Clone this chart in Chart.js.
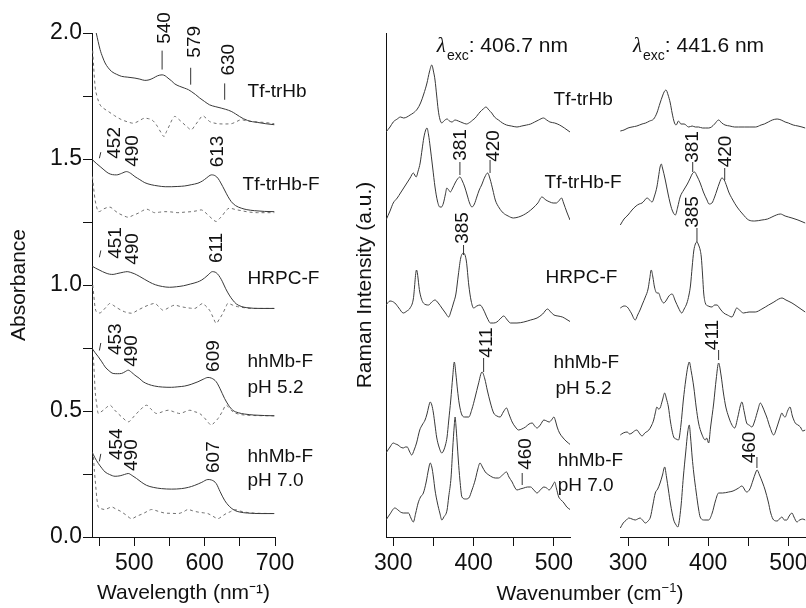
<!DOCTYPE html>
<html>
<head>
<meta charset="utf-8">
<script src="https://cdn.jsdelivr.net/npm/chart.js@4.4.0/dist/chart.umd.min.js"></script>
<style>
  html, body { margin: 0; padding: 0; background: #fff; overflow: hidden; }
  body { width: 806px; height: 608px; position: relative; }
  canvas { position: absolute; top: 0; }
  #abs { left: 0; }
  #ram1 { left: 340px; }
  #ram2 { left: 600px; }
  .xtitle {
    position: absolute; left: 590px; top: 593px; transform: translate(-50%, -50%);
    font: 21px 'Liberation Sans', Arial, sans-serif; color: #111; white-space: nowrap;
  }
  .xtitle sup { font-size: 13px; vertical-align: 8px; line-height: 0; }
</style>
</head>
<body>
<canvas id="abs" width="330" height="608"></canvas>
<canvas id="ram1" width="300" height="608"></canvas>
<canvas id="ram2" width="230" height="608"></canvas>
<div class="xtitle">Wavenumber (cm<sup>−1</sup>)</div>
<script>
const FONT = "'Liberation Sans', Arial, sans-serif";
Chart.defaults.font.family = FONT;
Chart.defaults.color = '#111';

// tick labels
const wlTickLabels = [500, 600, 700];
const absTickLabels = [0, 0.5, 1.0, 1.5, 2.0];
const wnTickLabels = [300, 400, 500];

// absorbance spectra [wavelength nm, absorbance]; *Dash = dashed trace
const absTfTrHb = [[446,2.0],[451.5,1.934],[455,1.905],[458.6,1.881],[463,1.862],[468,1.847],[475,1.836],[482,1.828],[490,1.825],[501,1.821],[508,1.817],[515,1.812],[521,1.814],[527,1.821],[533,1.83],[539.6,1.834],[544,1.83],[548,1.821],[553,1.81],[557.6,1.798],[564,1.789],[571.7,1.781],[577,1.775],[581,1.768],[587,1.756],[593,1.742],[600,1.728],[607,1.715],[615,1.708],[623.6,1.702],[630,1.697],[637.8,1.689],[644,1.679],[649.5,1.669],[655,1.66],[661,1.653],[668,1.648],[675.4,1.645],[687,1.64],[699,1.636]];
const absTfTrHbDash = [[441,1.93],[442.5,1.86],[444.4,1.788],[447,1.75],[451.5,1.715],[457,1.70],[463,1.689],[472,1.672],[482,1.656],[490,1.648],[498.6,1.642],[506,1.65],[515,1.662],[520,1.66],[524.6,1.656],[529,1.645],[533,1.629],[538,1.605],[542.4,1.589],[546,1.61],[550.5,1.636],[554,1.657],[557.6,1.669],[563,1.658],[569.3,1.642],[575,1.628],[581,1.616],[586,1.632],[590.5,1.649],[597.6,1.671],[602,1.662],[607,1.649],[613,1.643],[618.8,1.64],[628,1.639],[637.8,1.64],[645,1.648],[652,1.656],[659,1.652],[666,1.649],[675,1.647],[685,1.645],[699,1.64]];
const absTfTrHbF = [[440.6,1.497],[446,1.483],[451.5,1.47],[457,1.457],[463,1.444],[469,1.438],[475,1.437],[482,1.443],[489,1.45],[495,1.443],[501,1.43],[508,1.418],[515,1.406],[524,1.398],[534,1.393],[544,1.39],[553,1.39],[562,1.391],[571.7,1.393],[581,1.398],[590.5,1.404],[597,1.413],[602.4,1.424],[606,1.432],[609.5,1.437],[613,1.436],[618.8,1.424],[623,1.405],[628.3,1.377],[633,1.352],[637.8,1.331],[644,1.315],[652,1.305],[660,1.299],[670.7,1.295],[685,1.292],[699,1.291]];
const absTfTrHbFDash = [[440.6,1.43],[442.5,1.38],[444.4,1.338],[446.5,1.31],[449,1.291],[452,1.293],[456,1.301],[461,1.307],[465.6,1.309],[471,1.298],[477.4,1.285],[484,1.276],[491.5,1.269],[498,1.276],[505.7,1.285],[512,1.295],[517.5,1.301],[523,1.295],[529,1.287],[536,1.289],[543.4,1.291],[552,1.29],[562,1.287],[571,1.289],[581,1.291],[588,1.294],[595.3,1.298],[600,1.29],[604.7,1.278],[611,1.262],[616.5,1.252],[621,1.263],[625.9,1.278],[630,1.294],[635.4,1.305],[643,1.3],[652,1.295],[662,1.29],[675.4,1.287],[699,1.287]];
const absHRPC = [[440,1.075],[445,1.067],[450,1.06],[455,1.053],[460,1.047],[465,1.043],[470,1.042],[475,1.045],[480,1.048],[485,1.051],[490,1.053],[495,1.05],[500,1.045],[507,1.035],[515,1.022],[522,1.011],[530,1.001],[540,0.994],[550,0.991],[560,0.993],[570,0.997],[580,1.004],[590,1.012],[596,1.02],[600,1.028],[605,1.04],[611,1.053],[615,1.051],[618,1.045],[622,1.03],[625,1.015],[630,0.985],[635,0.96],[640,0.94],[645,0.925],[652,0.915],[660,0.91],[680,0.907],[699,0.907]];
const absHRPCDash = [[441,1.0],[442.5,0.96],[444.4,0.91],[447,0.892],[451,0.889],[456,0.9],[461,0.915],[465.6,0.927],[471,0.918],[477,0.907],[486,0.894],[496,0.888],[505,0.9],[515,0.914],[522,0.922],[529,0.927],[535,0.914],[541,0.9],[549,0.91],[557.6,0.92],[565,0.915],[572,0.911],[580,0.908],[586,0.907],[592,0.918],[597.6,0.927],[602,0.915],[607,0.9],[612,0.872],[616.5,0.848],[621,0.865],[626,0.888],[630,0.912],[633,0.927],[640,0.92],[647,0.914],[656,0.91],[666,0.907],[699,0.907]];
const absMb52 = [[440,0.749],[444,0.733],[449,0.715],[454,0.695],[458.6,0.675],[464,0.66],[470,0.649],[476,0.648],[482,0.649],[487,0.656],[491.5,0.662],[496,0.654],[501,0.642],[507,0.63],[512.7,0.616],[520,0.606],[529,0.599],[540,0.595],[553,0.594],[562,0.596],[571.7,0.599],[581,0.606],[590.5,0.616],[598,0.626],[604.7,0.633],[610,0.63],[616.5,0.616],[622,0.588],[628.3,0.55],[634,0.523],[640,0.503],[648,0.493],[656.6,0.488],[670,0.484],[685,0.482],[699,0.481]];
const absMb52Dash = [[442,0.715],[443.2,0.65],[444.4,0.583],[446.5,0.53],[449,0.49],[452,0.495],[456,0.503],[461,0.515],[465.6,0.523],[471,0.507],[477,0.49],[484,0.472],[491.5,0.457],[500,0.48],[508,0.503],[517.5,0.523],[524,0.507],[532,0.49],[540,0.497],[548.5,0.503],[556,0.497],[565,0.49],[572,0.497],[579,0.503],[586,0.497],[593,0.49],[600,0.472],[605,0.455],[609.5,0.444],[614,0.455],[619,0.47],[625,0.497],[630.6,0.523],[635,0.512],[640,0.497],[648,0.488],[656.6,0.484],[670,0.482],[699,0.481]];
const absMb70 = [[440,0.338],[444,0.315],[449,0.292],[454,0.273],[458.6,0.258],[465,0.248],[472.8,0.241],[480,0.243],[486,0.248],[491.5,0.252],[497,0.244],[503.4,0.232],[510,0.218],[517.5,0.205],[527,0.197],[538.7,0.192],[553,0.19],[567,0.192],[577,0.197],[586,0.205],[596,0.217],[604.7,0.228],[610,0.226],[616.5,0.212],[622,0.18],[628.3,0.146],[635,0.122],[642.4,0.106],[650,0.099],[661,0.095],[680,0.093],[699,0.093]];
const absMb70Dash = [[442,0.318],[443.5,0.26],[445.4,0.199],[447,0.15],[449,0.119],[453,0.112],[458.6,0.109],[463,0.114],[468,0.119],[474,0.111],[480,0.103],[488,0.088],[496.3,0.073],[504,0.083],[512.7,0.093],[518,0.101],[524.6,0.109],[534,0.102],[543.4,0.095],[552,0.094],[562,0.093],[570,0.1],[576.4,0.109],[583,0.104],[590.5,0.099],[598,0.096],[604.7,0.093],[612,0.082],[619,0.073],[625,0.083],[630.6,0.093],[637,0.101],[642.4,0.109],[649,0.104],[656.6,0.099],[670,0.095],[699,0.093]];

// Raman spectra [wavenumber cm-1, intensity a.u. incl. stacking offset]; A = 406.7 nm, B = 441.6 nm
const ramA_TfTrHb = [[291,405],[296,410],[300,415],[305,418],[309,420],[313,419],[317,420],[321,422],[325,424],[330,428],[334,434],[338,443],[342,454],[345,465],[348,472],[350,466],[352,457],[354,442],[356,427],[358,418],[360.5,414],[363,416],[367,418],[370,416],[373,415],[377,417],[381,416],[384,415],[387,414],[391,413],[396,415],[399,417],[402,419],[405,422],[408,425],[412,428],[415.5,430],[419,427],[422.6,424],[426,420],[431,417],[436,414],[441,412],[447,411],[454,410],[460,411],[466,412],[471,413],[476,415],[481,417],[487,419],[491,417],[495,415],[501,414],[507,412],[513,409],[520,405]];
const ramA_TfTrHbF = [[291,317],[296,326],[300,334],[305,339],[309,344],[313,349],[317,354],[321,359],[325,364],[328.5,360],[331,366],[333.5,374],[336,388],[338,399],[340,406],[342,409],[344,402],[346,390],[349,370],[352,350],[355,336],[358,330],[360,330],[362.5,334],[365,343],[366.7,349],[369,347],[371,345],[374,349],[377,354],[380,358],[383,360],[386,356],[389,350],[392,342],[395,334],[398,330],[401,333],[404,340],[407,347],[410,352],[414,360],[417.5,364],[420.5,358],[424,347],[427,337],[432,329],[437,324],[443,321],[449.5,319],[456,320],[462,322],[468,325],[474,329],[480,334],[485,340],[490,337],[495,335],[499,334],[503,334],[506,336],[509.5,339],[512,334],[516,325],[520,317]];
const ramA_HRPC = [[291,232],[296,236],[302,234],[307,229],[312.5,224],[317,226],[321,229],[325,238],[329,267],[333,245],[337.5,234],[344,232],[348,235],[352,237],[356,234],[360.5,229],[365,224],[369,220],[372,226],[375,234],[378,243],[381,262],[384,279],[387.5,284],[391,276],[394,252],[397,236],[400,229],[404,231],[408,232],[412.5,227],[417,219],[421,214],[425,214],[429,215],[433,218],[437.5,221],[442,217],[446,214],[454,214],[462.5,215],[471,217],[479,219],[486,223],[492,228],[496,225],[500,222],[505,221],[510.5,220],[515,218],[521,215]];
const ramA_Mb52 = [[291,84],[296,90],[300,94],[303,93],[306,92],[309,90],[312.5,89],[315,90],[317.5,90],[320,86],[323,82],[326,87],[329,94],[333,107],[336,112],[339.6,117],[342,123],[344,130],[346,135],[348,132],[350,124],[352,112],[354,100],[357,90],[360.5,84],[363,87],[365,92],[367,100],[369,116],[371.6,137],[374,160],[376,175],[378,163],[380,147],[382,134],[385.5,122],[389,120],[394,120],[398,128],[402,140],[406,153],[410.5,165],[414,158],[417,147],[421,134],[425,124],[429,121],[433,120],[437,125],[441,129],[444,123],[448,115],[452,110],[456,107],[460,108],[464.6,110],[469,113],[473,114],[476,111],[479,109],[483,112],[487.5,117],[491,116],[494,115],[497,117],[500,120],[502,116],[504,110],[507,104],[510.5,100],[515,96],[521,92]];
const ramA_Mb70 = [[291,17],[296,23],[302,29],[306,27],[309,25],[312.5,24],[316,24],[319,24],[322,19],[325,15],[328,24],[331,34],[334,40],[337.5,44],[341,55],[344,68],[346,74],[348,70],[350,60],[352,47],[355,34],[358,24],[360.5,17],[363,20],[367,27],[369,40],[372,60],[374,88],[376,112],[377,120],[378,112],[379.5,95],[381,77],[383,57],[385.5,40],[390,38],[394,39],[398,47],[402,57],[405,67],[408,74],[411,70],[414.6,65],[419,62],[423,60],[427,59],[431,59],[436,62],[441,65],[444,60],[448,55],[451,50],[454,47],[458,48],[462.5,49],[467,50],[471,50],[475,47],[479,44],[483,47],[487.5,50],[491,49],[494,47],[498,51],[501,55],[503,49],[506,40],[509,37],[512.5,34],[516,30],[521,27]];

const ramB_TfTrHb = [[290.4,406],[295,407],[300,409],[305,410],[311,411],[317.5,413],[322,414],[327,416],[332,418],[336,424],[340,434],[343,441],[345,445],[347.4,447],[350,442],[352.7,434],[355,424],[358,414],[360,412],[363,416],[366,413],[370,413],[375.7,410],[380,411],[384,410],[388,410],[393,409],[397,409],[400.6,409],[404,410],[408,413],[413,417],[417,414],[421,412],[427,411],[433,410],[438,410],[445,410],[452,410],[459,410],[466,412],[470,413],[475,415],[480,417],[486,418],[491,417],[496,415],[500,414],[506,412],[512,411],[517,410],[521,409]];
const ramB_TfTrHbF = [[290.4,312],[295,318],[300,322],[305,327],[310,331],[314,333],[317.5,334],[320,336],[323.7,339],[327,337],[330,335],[333,341],[336,350],[338,360],[340,370],[341.5,373],[343,369],[346.5,357],[350,343],[352.5,334],[355,327],[359,322],[362,330],[365,340],[369.5,347],[374,353],[377.7,359],[380,363],[383,365],[386,361],[390,354],[394,345],[398.5,337],[401,333],[404.7,334],[408,340],[411,347],[414,354],[417,359],[420,357],[423,351],[425.6,345],[430,338],[436,330],[443,323],[450.5,317],[458,316],[467,317],[474,318],[479.5,320],[485,322],[490,323],[496,321],[504.5,319],[512,317],[521,314]];
const ramB_HRPC = [[290.4,229],[295,231],[299,230],[304,224],[309,217],[312,222],[315,227],[318,233],[321.6,240],[325,248],[327,258],[329,267],[331,260],[333,250],[336,244],[338,244],[341,238],[344.5,234],[348,237],[351,241],[355,243],[359,236],[363,229],[367,224],[370,228],[373.5,234],[376,242],[378,252],[380,270],[382,286],[384,293],[386,295],[388,292],[390,287],[391.4,280],[393,262],[394.4,244],[396.4,234],[400,231],[404.7,230],[408,232],[411,232],[415,228],[419.3,224],[424,222],[429.7,220],[433,225],[435.5,229],[439,227],[444,224],[451,225],[458.7,225],[467,228],[475.4,232],[482,235],[488,238],[492,239],[497,237],[504.5,234],[512,230],[521,225]];
const ramB_Mb52 = [[290.4,102],[294,104],[299,105],[302,103],[305,104],[308,106],[311,107],[314,104],[317.5,101],[321,104],[326,107],[329,111],[332,117],[334,124],[336,130],[338,128],[340,129],[343,137],[345.7,144],[348,138],[350.4,130],[353,115],[357,100],[360,98],[363,97],[366,112],[369,137],[372,157],[374.5,170],[376.4,175],[379,165],[382,150],[385,130],[388,114],[392,103],[396.4,97],[398,99],[400.6,94],[403,110],[406.9,134],[410,158],[413,174],[416,162],[419,144],[422,130],[425.6,120],[429,113],[433,109],[437,120],[440,131],[442,135],[445,125],[448,114],[451,112],[454.6,110],[458,116],[462,127],[465,134],[468,130],[471,124],[473,120],[477,110],[481.7,102],[485,108],[489,118],[492,124],[494,121],[496,120],[499,126],[502,130],[505,121],[508.6,114],[512,112],[515,110],[518,106],[521,107]];
const ramB_Mb70 = [[290.4,9],[294,14],[298,17],[301,19],[305,18],[309,17],[312,18],[315,19],[318,17],[321.6,14],[325,16],[328,20],[331,32],[334,44],[337,48],[340,54],[343,62],[345.7,70],[348,60],[350.4,47],[353,33],[357,17],[360,12],[362,10],[366,30],[369,60],[372,85],[374.5,105],[376.4,112],[378,100],[380,80],[382,64],[385,45],[388,28],[390,20],[395,17],[400.6,17],[405,24],[409,36],[413,44],[418,44],[425.6,45],[431,46],[438,49],[442,51],[448,45],[452,48],[456,57],[459,64],[461,67],[464,62],[468,54],[471,47],[475,35],[478,24],[481.7,17],[486,16],[490,19],[492,20],[495,17],[498,17],[501,21],[504.5,24],[507,20],[510.7,15],[514,17],[518,18],[521,17]];

// text and marker annotations, placed in data coordinates
const absNotes = [
  { text: '540', x: 543.5, y: 2.02, rot: true }, { line: [539.6, 1.855, 539.6, 1.93] },
  { text: '579', x: 586, y: 1.965, rot: true }, { line: [580.2, 1.795, 580.2, 1.862] },
  { text: '630', x: 635, y: 1.894, rot: true }, { line: [628.5, 1.735, 628.5, 1.80] },
  { text: '452', x: 472.5, y: 1.564, rot: true }, { line: [450.5, 1.503, 452.5, 1.527] },
  { text: '490', x: 498.5, y: 1.532, rot: true },
  { text: '613', x: 618, y: 1.53, rot: true },
  { text: '451', x: 473.4, y: 1.167, rot: true }, { line: [450.5, 1.11, 452.5, 1.137] },
  { text: '490', x: 497.5, y: 1.143, rot: true },
  { text: '611', x: 617, y: 1.147, rot: true },
  { text: '453', x: 474, y: 0.785, rot: true }, { line: [450.5, 0.74, 452.5, 0.77] },
  { text: '490', x: 496, y: 0.738, rot: true },
  { text: '609', x: 613, y: 0.718, rot: true },
  { text: '454', x: 475, y: 0.368, rot: true }, { line: [450.5, 0.30, 452.5, 0.33] },
  { text: '490', x: 496, y: 0.325, rot: true },
  { text: '607', x: 613, y: 0.317, rot: true },
  { text: 'Tf-trHb', x: 661, y: 1.765 },
  { text: 'Tf-trHb-F', x: 654, y: 1.397 },
  { text: 'HRPC-F', x: 661, y: 1.024 },
  { text: 'hhMb-F', x: 661, y: 0.694 }, { text: 'pH 5.2', x: 661, y: 0.591 },
  { text: 'hhMb-F', x: 661, y: 0.317 }, { text: 'pH 7.0', x: 661, y: 0.222 }
];
const ramNotesA = [
  { lambda: true, text: ': 406.7 nm', x: 354.2, y: 485 },
  { text: '381', x: 384.4, y: 392, rot: true }, { line: [383, 362, 383, 375] },
  { text: '420', x: 424.6, y: 391, rot: true }, { line: [420.5, 364, 420.5, 377] },
  { text: '385', x: 387, y: 309, rot: true }, { line: [387.5, 282, 387.5, 292] },
  { text: '411', x: 417, y: 194.5, rot: true }, { line: [412.5, 165, 412.5, 179] },
  { text: '460', x: 464.6, y: 83, rot: true }, { line: [460.5, 52, 460.5, 64] },
  { text: 'Tf-trHb', x: 499.6, y: 437 },
  { text: 'Tf-trHb-F', x: 488.4, y: 354 },
  { text: 'HRPC-F', x: 489.6, y: 259 },
  { text: 'hhMb-F', x: 499.6, y: 174 }, { text: 'pH 5.2', x: 502, y: 148 },
  { text: 'hhMb-F', x: 504.6, y: 76 }, { text: 'pH 7.0', x: 504.6, y: 51 }
];
const ramNotesB = [
  { lambda: true, text: ': 441.6 nm', x: 306.2, y: 485 },
  { text: '381', x: 380.4, y: 390, rot: true }, { line: [380.7, 365, 380.7, 375] },
  { text: '420', x: 422.2, y: 385.5, rot: true }, { line: [420.6, 357, 420.6, 369] },
  { text: '385', x: 380.4, y: 325, rot: true }, { line: [386, 295, 386, 309] },
  { text: '411', x: 406, y: 202, rot: true }, { line: [413, 177, 413, 187] },
  { text: '460', x: 452, y: 89.5, rot: true }, { line: [460.8, 69, 460.8, 80] }
];

const trace = (pairs, dashed) => ({
  data: pairs.map(([x, y]) => ({ x, y })),
  borderColor: dashed ? '#707070' : '#383838',
  borderWidth: 1,
  borderDash: dashed ? [3, 3] : [],
  pointRadius: 0,
  cubicInterpolationMode: 'monotone',
  fill: false
});

function notesPlugin(items) {
  return {
    id: 'notes',
    afterDatasetsDraw(chart) {
      const { ctx } = chart;
      const sx = chart.scales.x, sy = chart.scales.y;
      ctx.save();
      ctx.fillStyle = '#111';
      ctx.strokeStyle = '#333';
      ctx.lineWidth = 1;
      items.forEach(it => {
        if (it.line) {
          const [x1, y1, x2, y2] = it.line;
          ctx.beginPath();
          ctx.moveTo(sx.getPixelForValue(x1), sy.getPixelForValue(y1));
          ctx.lineTo(sx.getPixelForValue(x2), sy.getPixelForValue(y2));
          ctx.stroke();
          return;
        }
        const px = sx.getPixelForValue(it.x), py = sy.getPixelForValue(it.y);
        if (it.lambda) {
          ctx.textAlign = 'left';
          ctx.textBaseline = 'alphabetic';
          ctx.font = "italic 21px 'Liberation Serif', 'DejaVu Serif', serif";
          ctx.fillText('λ', px, py);
          let cx = px + ctx.measureText('λ').width + 1;
          ctx.font = '14px ' + FONT;
          ctx.fillText('exc', cx, py + 8);
          cx += ctx.measureText('exc').width;
          ctx.font = '21px ' + FONT;
          ctx.fillText(it.text, cx, py);
          return;
        }
        ctx.save();
        ctx.font = '19px ' + FONT;
        ctx.translate(px, py);
        if (it.rot) {
          ctx.rotate(-Math.PI / 2);
          ctx.textAlign = 'center';
        } else {
          ctx.textAlign = 'left';
        }
        ctx.textBaseline = 'middle';
        ctx.fillText(it.text, 0, 0);
        ctx.restore();
      });
      ctx.restore();
    }
  };
}

function xAxis(min, max, labels, title) {
  return {
    type: 'linear', position: 'bottom', min, max,
    afterFit: s => { s.height = 71; },
    border: { display: true, color: '#111', width: 1 },
    grid: { display: true, drawOnChartArea: false, drawTicks: true, tickLength: 9, color: '#111' },
    ticks: {
      stepSize: 50, includeBounds: false, autoSkip: false, maxRotation: 0, padding: 4,
      font: { size: 23 }, color: '#111',
      callback: v => labels.includes(v) ? String(v) : ''
    },
    title: title ? { display: true, text: title, font: { size: 21 }, color: '#111', padding: { top: 0, bottom: 2 } } : { display: false }
  };
}

const baseOptions = (padding, scales, items) => ({
  type: 'line',
  data: { datasets: [] },
  options: {
    responsive: false, animation: false, events: [],
    layout: { padding },
    plugins: { legend: { display: false }, tooltip: { enabled: false } },
    scales
  },
  plugins: [notesPlugin(items)]
});

// absorbance panel
const absCfg = baseOptions({ left: 0, top: 33, right: 55, bottom: 0 }, {
  x: xAxis(440, 700, wlTickLabels, 'Wavelength (nm⁻¹)'),
  y: {
    min: 0, max: 2,
    afterFit: s => { s.width = 92; },
    border: { display: true, color: '#111', width: 1 },
    grid: { display: true, drawOnChartArea: false, drawTicks: true, tickLength: 9, color: '#111' },
    ticks: {
      stepSize: 0.25, padding: 1, font: { size: 23 }, color: '#111',
      callback: v => absTickLabels.some(t => Math.abs(t - v) < 1e-6) ? v.toFixed(1) : ''
    },
    title: { display: true, text: 'Absorbance', font: { size: 21 }, color: '#111', padding: { top: 7, bottom: 0 } }
  }
}, absNotes);
absCfg.data.datasets = [
  trace(absTfTrHb), trace(absTfTrHbDash, true),
  trace(absTfTrHbF), trace(absTfTrHbFDash, true),
  trace(absHRPC), trace(absHRPCDash, true),
  trace(absMb52), trace(absMb52Dash, true),
  trace(absMb70), trace(absMb70Dash, true)
];
new Chart(document.getElementById('abs'), absCfg);

// Raman, 406.7 nm excitation
const ram1Cfg = baseOptions({ left: 0, top: 33, right: 70, bottom: 0 }, {
  x: xAxis(291, 520, wnTickLabels, null),
  y: {
    min: 0, max: 504,
    afterFit: s => { s.width = 46; },
    border: { display: true, color: '#111', width: 1 },
    grid: { display: false },
    ticks: { display: false },
    title: { display: true, text: 'Raman Intensity (a.u.)', font: { size: 21 }, color: '#111', padding: { top: 13, bottom: 0 } }
  }
}, ramNotesA);
ram1Cfg.data.datasets = [ramA_TfTrHb, ramA_TfTrHbF, ramA_HRPC, ramA_Mb52, ramA_Mb70].map(d => trace(d));
new Chart(document.getElementById('ram1'), ram1Cfg);

// Raman, 441.6 nm excitation
const ram2Cfg = baseOptions({ left: 20, top: 33, right: 24, bottom: 0 }, {
  x: xAxis(290, 522, wnTickLabels, null),
  y: { display: false, min: 0, max: 504 }
}, ramNotesB);
ram2Cfg.data.datasets = [ramB_TfTrHb, ramB_TfTrHbF, ramB_HRPC, ramB_Mb52, ramB_Mb70].map(d => trace(d));
new Chart(document.getElementById('ram2'), ram2Cfg);
</script>
</body>
</html>
